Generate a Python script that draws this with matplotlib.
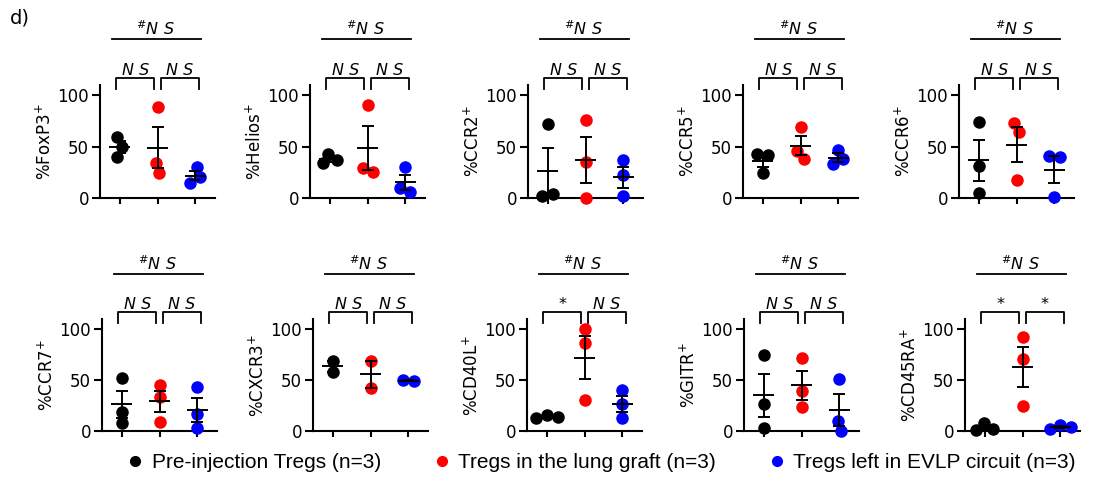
import matplotlib
matplotlib.use("Agg")
import matplotlib.pyplot as plt
from matplotlib.lines import Line2D
import numpy as np

plt.rcParams.update({"font.family": "DejaVu Sans", "font.size": 10,
                     "mathtext.default": "regular"})

# marker names (y labels)
markers = ["FoxP3", "Helios", "CCR2", "CCR5", "CCR6",
           "CCR7", "CXCR3", "CD40L", "GITR", "CD45RA"]

group_names = ["Pre-injection Tregs (n=3)", "Tregs in the lung graft (n=3)",
               "Tregs left in EVLP circuit (n=3)"]
group_colors = ["#000000", "#ff0000", "#0000ff"]

# % positive cells per sample
pre_injection = [[59, 50, 40], [43, 37, 34], [72, 2, 4], [43, 42, 24], [74, 31, 5],
                 [52, 19, 8], [69, 58], [16, 14, 13], [75, 27, 3], [8, 2, 1]]
lung_graft = [[89, 34, 24], [91, 29, 25], [76, 35, 0], [69, 46, 38], [73, 64, 18],
              [45, 33, 9], [69, 42], [100, 86, 30], [72, 39, 24], [92, 71, 25]]
evlp_circuit = [[30, 20, 15], [30, 10, 6], [37, 22, 2], [47, 38, 33], [41, 40, 1],
                [43, 17, 3], [50, 49], [40, 27, 13], [51, 10, 0], [6, 4, 2]]

# significance labels: pre vs graft, graft vs circuit, overall
left_tests = ["NS", "NS", "NS", "NS", "NS", "NS", "NS", "*", "NS", "*"]
right_tests = ["NS", "NS", "NS", "NS", "NS", "NS", "NS", "NS", "NS", "*"]
overall_tests = ["#NS"] * 10

yticks = [0, 50, 100]


def swarm_offsets(values, ax, min_dist=10.5):
    # simple beeswarm: shift points sideways (pixels) until they stop overlapping,
    # then centre every cluster of touching points on the category
    bbox = ax.get_window_extent()
    x0, x1 = ax.get_xlim()
    y0, y1 = ax.get_ylim()
    sx = bbox.width / (x1 - x0)
    sy = bbox.height / (y1 - y0)
    placed = []
    side = 1
    for v in values:
        best = None
        for step in range(0, 60):
            for dx in ([0] if step == 0 else [side * step, -side * step]):
                if all(np.hypot(dx - px, (v - pv) * sy) >= min_dist for px, pv in placed):
                    best = dx
                    break
            if best is not None:
                break
        if best != 0:
            side = -int(np.sign(best))
        placed.append((best, v))
    offs = np.array([p[0] for p in placed], dtype=float)
    vals = np.array(values, dtype=float)
    order = np.argsort(vals)
    cluster = [order[0]]
    clusters = []
    for k in order[1:]:
        if (vals[k] - vals[cluster[-1]]) * sy < min_dist:
            cluster.append(k)
        else:
            clusters.append(cluster)
            cluster = [k]
    clusters.append(cluster)
    for cl in clusters:
        offs[cl] -= (offs[cl].max() + offs[cl].min()) / 2
    return offs / sx


def sig_text(label):
    if label.startswith("#"):
        return r"$^{\#}$" + "N S"
    if label == "NS":
        return "N S"
    return label


def draw_panel(ax, idx):
    ax.set_xlim(-0.53, 2.53)
    ax.set_ylim(0, 110)
    groups = [pre_injection[idx], lung_graft[idx], evlp_circuit[idx]]
    for i, (vals, col) in enumerate(zip(groups, group_colors)):
        offs = swarm_offsets(vals, ax)
        ax.plot(offs + i, vals, "o", color=col, ms=8, mec=col,
                clip_on=False, zorder=3)
        mean = np.mean(vals)
        sem = np.std(vals, ddof=1) / np.sqrt(len(vals))
        ax.hlines(mean, i - 0.28, i + 0.28, color="black", lw=1.4, zorder=4)
        ax.errorbar(i, mean, yerr=sem, fmt="none", ecolor="black", elinewidth=1.4,
                    capsize=4.3, capthick=1.4, zorder=4)

    ax.spines["top"].set_visible(False)
    ax.spines["right"].set_visible(False)
    ax.spines["left"].set_linewidth(1.5)
    ax.spines["bottom"].set_linewidth(1.5)
    ax.set_yticks(yticks)
    ax.set_xticks([0, 1, 2])
    ax.set_xticklabels([])
    ax.tick_params(axis="y", length=6, width=1.5, labelsize=12, pad=2)
    ax.tick_params(axis="x", length=4, width=1.5)
    ax.set_ylabel("%" + markers[idx] + r"$^{+}$", fontsize=12, labelpad=2)

    # brackets for pairwise tests
    kw = dict(color="black", lw=1.3, clip_on=False)
    for (a, b), lab in [((-0.1, 0.92), left_tests[idx]), ((1.08, 2.1), right_tests[idx])]:
        ax.plot([a, a, b, b], [106, 117, 117, 106], **kw)
        ax.text((a + b) / 2, 119.5, sig_text(lab), ha="center", va="baseline",
                style="italic", fontsize=11.5)
    ax.plot([-0.2, 2.15], [154.5, 154.5], **kw)
    ax.text(0.95, 158.3, sig_text(overall_tests[idx]), ha="center", va="baseline",
            style="italic", fontsize=11.5)


fig = plt.figure(figsize=(11.06, 4.88), dpi=100)
W, H = 1106.0, 488.0
row_left = [[100, 310, 528, 743, 959], [102, 313, 527, 744, 965]]
row_bottom = [198, 431]
row_height = [113, 112]

for r in range(2):
    for c in range(5):
        idx = r * 5 + c
        ax = fig.add_axes([row_left[r][c] / W, (H - row_bottom[r]) / H,
                           115 / W, row_height[r] / H])
        draw_panel(ax, idx)

fig.text(10 / W, 1 - 18 / H, "d)", fontsize=14, va="center", ha="left")

handles = [Line2D([], [], ls="none", marker="o", color=c, ms=7) for c in group_colors]
fig.legend(handles, group_names, ncol=3, loc="center left",
           bbox_to_anchor=(127 / W, 25 / H), frameon=False, borderpad=0,
           borderaxespad=0, handlelength=0.8, handletextpad=0.4, columnspacing=2.5,
           prop={"family": "Liberation Sans", "size": 15})

fig.savefig("out.png", dpi=100)
